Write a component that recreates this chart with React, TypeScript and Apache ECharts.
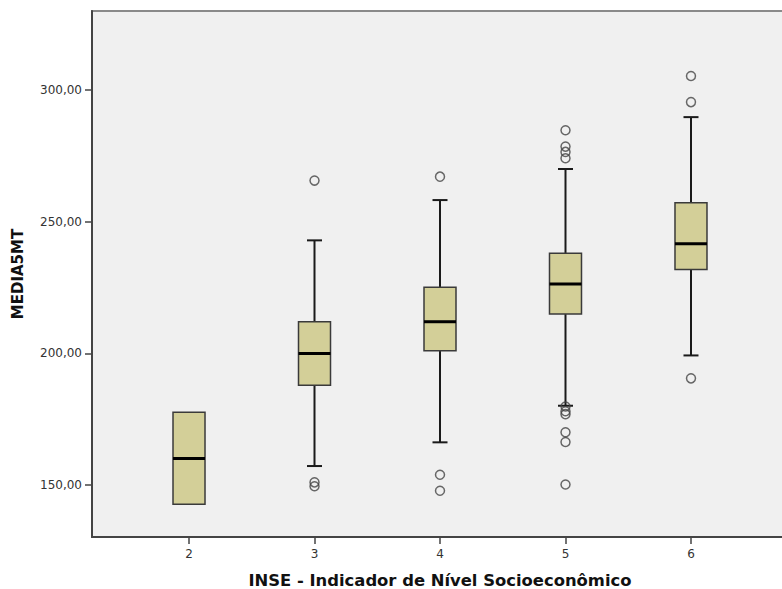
import React, { useEffect, useRef } from "react";
import * as echarts from "echarts";

const categories = [2, 3, 4, 5, 6];
const whiskerLow = [142.7, 157.2, 166.2, 180.1, 199.2];
const q1 = [142.7, 187.9, 201.0, 214.9, 231.8];
const medians = [160.1, 199.9, 212.0, 226.3, 241.6];
const q3 = [177.6, 212.0, 225.1, 238.0, 257.2];
const whiskerHigh = [177.6, 242.9, 258.2, 270.0, 289.7];

const outliers3 = [265.6, 151.0, 149.5];
const outliers4 = [267.1, 153.9, 147.8];
const outliers5 = [284.7, 278.5, 276.5, 274.1, 179.8, 178.0, 176.9, 170.0, 166.3, 150.2];
const outliers6 = [305.3, 295.4, 190.5];

const yTicks = [150, 200, 250, 300];

const FONT = "DejaVu Sans";

export default function App() {
  const ref = useRef<HTMLDivElement>(null);

  useEffect(() => {
    if (!ref.current) return;
    const chart = echarts.init(ref.current, null, { renderer: "svg" });

    const boxData = categories.map((c, i) => [c, whiskerLow[i], q1[i], medians[i], q3[i], whiskerHigh[i]]);
    const outlierData: number[][] = [];
    outliers3.forEach((v) => outlierData.push([3, v]));
    outliers4.forEach((v) => outlierData.push([4, v]));
    outliers5.forEach((v) => outlierData.push([5, v]));
    outliers6.forEach((v) => outlierData.push([6, v]));

    const boxW = 32;
    const capW = 15;

    chart.setOption({
      animation: false,
      grid: {
        left: 92,
        top: 11,
        right: -6,
        bottom: 52,
        outerBoundsMode: "none",
        containLabel: false,
        show: true,
        backgroundColor: "#F0F0F0",
        borderColor: "#8a8a8a",
        borderWidth: 2,
      },
      xAxis: {
        type: "value",
        min: 1.227,
        max: 6.773,
        splitLine: { show: false },
        axisLine: { show: true, onZero: false, lineStyle: { color: "#444", width: 2 } },
        axisTick: { show: true, length: 7, customValues: categories, lineStyle: { color: "#444", width: 1.5 } },
        axisLabel: {
          customValues: categories,
          margin: 11,
          fontFamily: FONT,
          fontSize: 12,
          color: "#333",
        },
        name: "INSE - Indicador de Nível Socioeconômico",
        nameLocation: "middle",
        nameGap: 35,
        nameTextStyle: { fontFamily: FONT, fontSize: 16.4, fontWeight: "bold", color: "#111", verticalAlign: "top" },
      },
      yAxis: {
        type: "value",
        min: 130.25,
        max: 330,
        splitLine: { show: false },
        axisLine: { show: true, onZero: false, lineStyle: { color: "#444", width: 2 } },
        axisTick: { show: true, length: 7, customValues: yTicks, lineStyle: { color: "#444", width: 1.5 } },
        axisLabel: {
          customValues: yTicks,
          margin: 10,
          fontFamily: FONT,
          fontSize: 12,
          color: "#333",
          formatter: (v: number) => v.toFixed(2).replace(".", ","),
        },
        name: "MEDIA5MT",
        nameLocation: "middle",
        nameGap: 67,
        nameRotate: 90,
        nameTextStyle: { fontFamily: FONT, fontSize: 15, fontWeight: "bold", color: "#111" },
      },
      series: [
        {
          type: "custom",
          data: boxData,
          encode: { x: 0, y: [1, 2, 3, 4, 5] },
          clip: true,
          renderItem: (params: any, api: any) => {
            const x = api.value(0);
            const lo = api.value(1);
            const a = api.value(2);
            const m = api.value(3);
            const b = api.value(4);
            const hi = api.value(5);
            const pLo = api.coord([x, lo]);
            const pA = api.coord([x, a]);
            const pM = api.coord([x, m]);
            const pB = api.coord([x, b]);
            const pHi = api.coord([x, hi]);
            const cx = pM[0];
            const children: any[] = [];
            const wStyle = { stroke: "#1a1a1a", lineWidth: 2 };
            if (hi > b) {
              children.push({ type: "line", shape: { x1: cx, y1: pB[1], x2: cx, y2: pHi[1] }, style: wStyle });
              children.push({ type: "line", shape: { x1: cx - capW / 2, y1: pHi[1], x2: cx + capW / 2, y2: pHi[1] }, style: wStyle });
            }
            if (lo < a) {
              children.push({ type: "line", shape: { x1: cx, y1: pA[1], x2: cx, y2: pLo[1] }, style: wStyle });
              children.push({ type: "line", shape: { x1: cx - capW / 2, y1: pLo[1], x2: cx + capW / 2, y2: pLo[1] }, style: wStyle });
            }
            children.push({
              type: "rect",
              shape: { x: cx - boxW / 2, y: pB[1], width: boxW, height: pA[1] - pB[1] },
              style: { fill: "#D3CF98", stroke: "#3a3a3a", lineWidth: 1.5 },
            });
            children.push({
              type: "line",
              shape: { x1: cx - boxW / 2, y1: pM[1], x2: cx + boxW / 2, y2: pM[1] },
              style: { stroke: "#000", lineWidth: 3 },
            });
            return { type: "group", children };
          },
        },
        {
          type: "scatter",
          data: outlierData,
          symbol: "circle",
          symbolSize: 9,
          itemStyle: { color: "rgba(0,0,0,0)", borderColor: "#444", borderWidth: 1.5 },
        },
      ],
    });

    return () => chart.dispose();
  }, []);

  return (
    <div
      ref={ref}
      style={{ position: "absolute", left: 0, top: 0, width: 782, height: 589, background: "#fff" }}
    />
  );
}
